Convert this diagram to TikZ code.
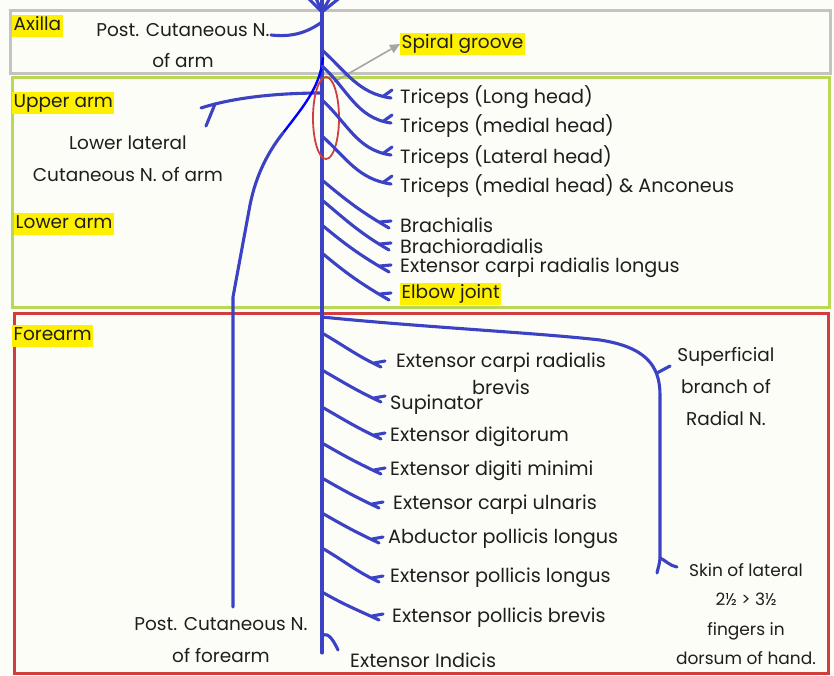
\documentclass[tikz,border=0pt]{standalone}
\usepackage{fontspec}
\setmainfont{Poppins}
\usetikzlibrary{calc,arrows.meta}
\definecolor{bg}{RGB}{253,253,247}
\definecolor{nerveblue}{RGB}{60,66,196}
\definecolor{brightblue}{RGB}{0,0,255}
\definecolor{boxgray}{RGB}{195,195,195}
\definecolor{boxgreen}{RGB}{185,216,85}
\definecolor{boxred}{RGB}{208,62,62}
\definecolor{hlyellow}{RGB}{255,240,0}
\definecolor{ink}{RGB}{30,30,30}
\definecolor{arrowgray}{RGB}{165,165,165}
\begin{document}
\begin{tikzpicture}[x=1pt,y=1pt,
  nerve/.style={draw=nerveblue,line width=3.1pt,line cap=round},
  region/.style={line width=3pt},
  lbl/.style={anchor=west,inner sep=0pt,text=ink,font=\fontsize{19.2}{23}\selectfont},
  hl/.style={anchor=west,fill=hlyellow,text=ink,font=\fontsize{18.5}{22}\selectfont,
    text height=13pt,text depth=4pt,inner xsep=1.5pt,inner ysep=2.5pt},
  multi/.style={align=center,inner sep=0pt,text=ink},
]
\fill[bg] (0,0) rectangle (834,-675);
\useasboundingbox (0,0) rectangle (834,-675);
\clip (0,0) rectangle (834,-675);

% region boxes
\draw[region,draw=boxgray] (10,-10) rectangle (830,-73);
\draw[region,draw=boxgreen] (12,-77) rectangle (829,-307);
\draw[region,draw=boxred] (14,-313) rectangle (828,-673);

% region labels
\node[hl] (axilla) at (12,-26) {Axilla};
\node[hl] (upperarm) at (12,-103) {Upper arm};
\node[hl] (lowerarm) at (14,-224) {Lower arm};
\node[hl] (forearm) at (12,-336) {Forearm};

% main trunk
\coordinate (top) at (322,5);
\coordinate (bottom) at (322,-653);
\draw[nerve] (top) -- (bottom);
\coordinate (fan) at (322,-12);
\foreach \i/\fx in {1/306,2/315,3/331,4/342}{
  \coordinate (fan\i) at (\fx,4);
  \draw[nerve] (fan) -- (fan\i);
}

% Post. cutaneous N. of arm
\coordinate (pcas) at (322,-22);
\coordinate (pcae) at (271,-35);
\draw[nerve] (pcas) .. controls (305,-34) and (290,-37) .. (pcae);
\node[multi,font=\fontsize{18.5}{31}\selectfont] (pcalbl) at (183,-46) {Post. Cutaneous N.\\of arm};

% Lower lateral cutaneous N. of arm
\coordinate (llcs) at (322,-93);
\coordinate (llce) at (201,-108);
\coordinate (llcf) at (215,-104);
\coordinate (llct) at (206,-126);
\draw[nerve] (llcs) .. controls (280,-93) and (235,-97) .. (llce);
\draw[nerve] (llcf) -- (llct);
\node[multi,font=\fontsize{18.5}{32}\selectfont] (llclbl) at (128,-159) {Lower lateral\\Cutaneous N. of arm};

% Post. cutaneous N. of forearm
\coordinate (pcfs) at (323,-58);
\coordinate (pcfm) at (283,-133);
\coordinate (pcfk) at (233,-297);
\coordinate (pcfe) at (233,-607);
\draw[draw=brightblue,line width=2.4pt,line cap=round] (pcfs) .. controls (320,-88) and (302,-108) .. (pcfm);
\draw[nerve] (pcfm) .. controls (268,-152) and (256,-175) .. (250,-205) -- (pcfk) -- (pcfe);
\node[multi,font=\fontsize{18.5}{32}\selectfont] (pcflbl) at (221,-640) {Post. Cutaneous N.\\of forearm};

% spiral groove
\draw[draw=boxred,line width=1.8pt] (326,-118) ellipse [x radius=13,y radius=41];
\coordinate (sgs) at (334,-82);
\node[hl] (spiral) at (400,-44) {Spiral groove};
\draw[arrowgray,line width=1.6pt,-{Triangle[length=10pt,width=9pt]}] (sgs) -- (spiral.west);

% triceps branches
\foreach \n/\sy/\ey in {ta/50/98,tb/66/123,tc/100/155,td/136/184}{
  \coordinate (\n s) at (322,-\sy);
  \coordinate (\n e) at (391,-\ey);
  \draw[nerve] (\n s) to[out=-42,in=172] (\n e);
  \draw[nerve] ($(\n e)+(-8,1.5)$) -- ($(\n e)+(1,8)$);
}
\node[lbl] (tla) at (400,-97) {Triceps (Long head)};
\node[lbl] (tlb) at (400,-126) {Triceps (medial head)};
\node[lbl] (tlc) at (400,-157) {Triceps (Lateral head)};
\node[lbl] (tld) at (400,-186) {Triceps (medial head) \& Anconeus};

% lower arm branches
\foreach \n/\sy/\ey in {ba/180/228,bb/200/250,bc/225/272,bd/253/300}{
  \coordinate (\n s) at (322,-\sy);
  \coordinate (\n e) at (389,-\ey);
  \draw[nerve] (\n s) to[out=-40,in=150] (\n e);
  \draw[nerve] ($(\n e)+(-9,6)$) -- ($(\n e)+(2,7)$);
}
\node[lbl] (bla) at (400,-225) {Brachialis};
\node[lbl] (blb) at (400,-246) {Brachioradialis};
\node[lbl] (blc) at (400,-268) {Extensor carpi radialis longus};
\node[hl] (elbow) at (400,-294) {Elbow joint};

% superficial branch of radial N.
\coordinate (sbs) at (322,-317);
\coordinate (sbc) at (660,-395);
\coordinate (sbe) at (660,-557);
\draw[nerve] (sbs) .. controls (420,-327) and (540,-333) .. (600,-340)
  .. controls (645,-347) and (660,-365) .. (sbc) -- (sbe)
  .. controls (660,-563) and (658,-568) .. (657,-573);
\coordinate (sbta) at (657,-373);
\coordinate (sbtb) at (670,-366);
\draw[nerve] (sbta) -- (sbtb);
\coordinate (sbpa) at (660,-558);
\coordinate (sbpb) at (677,-567);
\draw[nerve] (sbpa) .. controls (665,-560) and (670,-566) .. (sbpb);
\node[multi,font=\fontsize{18.5}{32}\selectfont] (sblbl) at (726,-387) {Superficial\\branch of\\Radial N.};
\node[multi,font=\fontsize{17}{29.5}\selectfont] (skinlbl) at (746,-614) {Skin of lateral\\2½ > 3½\\fingers in\\dorsum of hand.};

% forearm branches
\foreach \n/\sy/\ex/\ey in {fa/333/381/367,fb/370/381/402,fc/407/381/439,fd/443/381/474,fe/478/379/508,ff/513/379/543,fg/548/379/582,fh/592/379/620}{
  \coordinate (\n s) at (322,-\sy);
  \coordinate (\n e) at (\ex,-\ey);
  \draw[nerve] (\n s) to[out=-30,in=155] (\n e);
  \draw[nerve] ($(\n e)+(-7,4)$) -- ($(\n e)+(4,6)$);
}
\node[multi,font=\fontsize{19.2}{27}\selectfont] (fla) at (501,-374) {Extensor carpi radialis\\brevis};
\node[lbl] (flb) at (390,-405) {Supinator};
\node[lbl] (flc) at (390,-437) {Extensor digitorum};
\node[lbl] (fld) at (390,-471) {Extensor digiti minimi};
\node[lbl] (fle) at (393,-505) {Extensor carpi ulnaris};
\node[lbl] (flf) at (388,-539) {Abductor pollicis longus};
\node[lbl] (flg) at (390,-578) {Extensor pollicis longus};
\node[lbl] (flh) at (392,-618) {Extensor pollicis brevis};

% extensor indicis
\coordinate (eis) at (322,-636);
\coordinate (eie) at (338,-650);
\draw[nerve] (eis) to[out=40,in=115] (eie);
\node[lbl] (eilbl) at (350,-660) {Extensor Indicis};
\end{tikzpicture}
\end{document}
